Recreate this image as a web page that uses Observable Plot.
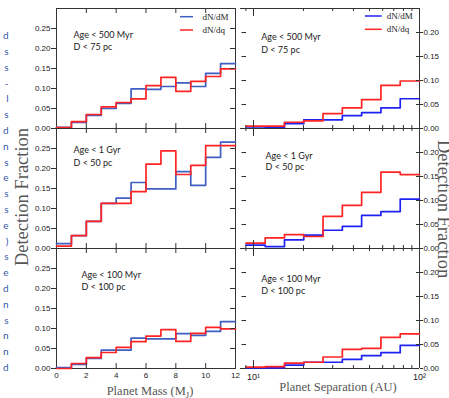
<!DOCTYPE html>
<html><head><meta charset="utf-8">
<script src="https://cdn.jsdelivr.net/npm/d3@7"></script>
<script src="https://cdn.jsdelivr.net/npm/@observablehq/plot@0.6"></script>
<style>
body{margin:0;background:#fff;}
#root{position:relative;width:449px;height:398px;overflow:hidden;background:#fff;}
#root svg{position:absolute;left:0;top:0;}
</style></head><body><div id="root"></div>
<script>
// ---- data ----
const massEdges = [0,1,2,3,4,5,6,7,8,9,10,11,12];
const sepEdges = [9.00, 11.76, 15.37, 20.08, 26.24, 34.29, 44.81, 58.56, 76.54, 100];
const panelAges = ["Age < 500 Myr", "Age < 1 Gyr", "Age < 100 Myr"];
const panelDists = ["D < 75 pc", "D < 50 pc", "D < 100 pc"];
const seriesNames = ["dN/dM", "dN/dq"];

const massDM_500 = [0.003,0.015,0.033,0.050,0.063,0.099,0.098,0.105,0.114,0.105,0.138,0.162];
const massDq_500 = [0.002,0.017,0.035,0.054,0.065,0.074,0.107,0.128,0.093,0.118,0.130,0.149];
const massDM_1G  = [0.012,0.032,0.068,0.113,0.126,0.165,0.149,0.149,0.192,0.158,0.228,0.266];
const massDq_1G  = [0.006,0.032,0.068,0.113,0.113,0.142,0.211,0.244,0.185,0.208,0.257,0.257];
const massDM_100 = [0.002,0.010,0.025,0.046,0.046,0.076,0.074,0.074,0.087,0.083,0.093,0.117];
const massDq_100 = [0.000,0.0125,0.027,0.040,0.053,0.067,0.081,0.097,0.068,0.088,0.103,0.099];

const sepDM_500 = [0.001,0.002,0.010,0.018,0.018,0.027,0.033,0.043,0.062];
const sepDq_500 = [0.005,0.005,0.013,0.016,0.031,0.043,0.060,0.090,0.099];
const sepDM_1G  = [0.007,0.004,0.018,0.028,0.038,0.046,0.069,0.077,0.103];
const sepDq_1G  = [0.011,0.022,0.029,0.025,0.067,0.090,0.117,0.159,0.154];
const sepDM_100 = [0.0015,0.0015,0.007,0.013,0.013,0.019,0.027,0.033,0.048];
const sepDq_100 = [0.003,0.004,0.011,0.013,0.024,0.040,0.042,0.065,0.072];

const massYTicks = [0,0.05,0.10,0.15,0.20,0.25];
const sepYTicks = [0,0.05,0.10,0.15,0.20];
const massXTicks = [0,2,4,6,8,10,12];
const sepMajor = [10,100];
const sepMinor = [9,20,30,40,50,60,70,80,90];
const sepTickLabels = ["10\u00B9","10\u00B2"];
const edgeFragments = ["d","s","s","-","l","s","d","n","s","e","s","s","e",")","s","e","d","n","s","n","n","d"];

// ---- layout ----
const W = 449, H = 398;
const rows = [[8,128],[128,248],[248,368]];
const L = [56,235], R = [240,419];
const blueL = "#3f5fc2", blueR = "#1f23f2", red = "#ff2424", ink = "#333";
const annL = [[17,23,35.5],[17,18,31],[25,22.7,35.3]];
const annR = [[20.7,25,37.7],[25,23.7,35.3],[20.7,27,39.3]];

function steps(edges, vals){
  const pts = vals.map((v,i)=>({x:edges[i], y:v}));
  pts.push({x:edges[edges.length-1], y:vals[vals.length-1]});
  return pts;
}
const root = document.getElementById("root");
const baseStyle = {background:"transparent", overflow:"visible", fontFamily:"Liberation Sans", fontSize:"8px", color:"#222"};

const massDM = [massDM_500, massDM_1G, massDM_100];
const massDq = [massDq_500, massDq_1G, massDq_100];
const sepDM = [sepDM_500, sepDM_1G, sepDM_100];
const sepDq = [sepDq_500, sepDq_1G, sepDq_100];

for (let i=0;i<3;i++){
  const fw = L[1]-L[0], fh = rows[i][1]-rows[i][0];
  const p = Plot.plot({
    width:W, height:H,
    marginLeft:L[0], marginRight:W-L[1], marginTop:rows[i][0], marginBottom:H-rows[i][1],
    style: baseStyle,
    x:{type:"linear", domain:[0,12], axis:null},
    y:{domain:[0,0.30], axis:null},
    marks:[
      Plot.frame({stroke:ink, strokeWidth:1}),
      Plot.line(steps(massEdges, massDM[i]), {x:"x", y:"y", curve:"step-after", stroke:blueL, strokeWidth:1.7}),
      Plot.line(steps(massEdges, massDq[i]), {x:"x", y:"y", curve:"step-after", stroke:red, strokeWidth:1.7}),
      Plot.axisY(massYTicks, {anchor:"left", label:null, tickSize:5, tickPadding:1, tickFormat:d3.format(".2f"), stroke:ink, fill:"#222"}),
      Plot.tickY(massYTicks, {y:d=>d, insetLeft:fw-5, stroke:ink}),
      Plot.tickX(massXTicks.slice(1,6), {x:d=>d, insetTop:fh-5, stroke:ink}),
      Plot.tickX(massXTicks.slice(1,6), {x:d=>d, insetBottom:fh-5, stroke:ink}),
      i===2 ? Plot.axisX(massXTicks, {anchor:"bottom", label:null, tickSize:0, tickPadding:4, fill:"#222"}) : null,
      Plot.text([panelAges[i]], {frameAnchor:"top-left", dx:annL[i][0], dy:annL[i][1], textAnchor:"start", fontFamily:"Lato", fontSize:9, fill:"#222"}),
      Plot.text([panelDists[i]], {frameAnchor:"top-left", dx:annL[i][0], dy:annL[i][2], textAnchor:"start", fontFamily:"Lato", fontSize:9, fill:"#222"})
    ]
  });
  root.appendChild(p);
}

for (let i=0;i<3;i++){
  const fw = R[1]-R[0], fh = rows[i][1]-rows[i][0];
  const p = Plot.plot({
    width:W, height:H,
    marginLeft:R[0], marginRight:W-R[1], marginTop:rows[i][0], marginBottom:H-rows[i][1],
    style: baseStyle,
    x:{type:"log", domain:[8.35,100], axis:null},
    y:{domain:[0,0.25], axis:null},
    marks:[
      Plot.ruleY([0,0.25], {stroke:ink}),
      Plot.ruleX([100], {stroke:ink}),
      Plot.line(steps(sepEdges, sepDM[i]), {x:"x", y:"y", curve:"step-after", stroke:blueR, strokeWidth:1.7}),
      Plot.line(steps(sepEdges, sepDq[i]), {x:"x", y:"y", curve:"step-after", stroke:red, strokeWidth:1.7}),
      Plot.axisY(sepYTicks, {anchor:"right", label:null, tickSize:3, tickPadding:1, tickFormat:d3.format(".2f"), stroke:ink, fill:"#222"}),
      Plot.tickY(sepYTicks, {y:d=>d, insetLeft:fw-3, stroke:ink}),
      Plot.tickY(sepYTicks.concat([0.25]), {y:d=>d, insetLeft:1.5, insetRight:fw-6, stroke:ink}),
      Plot.tickX(sepMajor.slice(0,1), {x:d=>d, insetTop:fh-8, stroke:ink}),
      Plot.tickX(sepMajor.slice(0,1), {x:d=>d, insetBottom:fh-8, stroke:ink}),
      Plot.tickX(sepMinor, {x:d=>d, insetTop:fh-3, stroke:ink}),
      Plot.tickX(sepMinor, {x:d=>d, insetBottom:fh-3, stroke:ink}),
      i===2 ? Plot.axisX(sepMajor, {anchor:"bottom", label:null, tickSize:0, tickPadding:5, fontSize:9, tickFormat:(d)=>sepTickLabels[sepMajor.indexOf(d)], fill:"#222"}) : null,
      Plot.text([panelAges[i]], {frameAnchor:"top-left", dx:annR[i][0], dy:annR[i][1], textAnchor:"start", fontFamily:"Lato", fontSize:9, fill:"#222"}),
      Plot.text([panelDists[i]], {frameAnchor:"top-left", dx:annR[i][0], dy:annR[i][2], textAnchor:"start", fontFamily:"Lato", fontSize:9, fill:"#222"})
    ]
  });
  root.appendChild(p);
}

// ---- overlay: titles, legends, page fragments ----
const svg = d3.select(root).append("svg").attr("width",W).attr("height",H).style("overflow","hidden");
svg.append("g").selectAll("text").data(edgeFragments).join("text")
  .attr("x",8.5).attr("y",(d,i)=>35.7+i*15.8).attr("dy","0.35em")
  .attr("text-anchor","end").attr("font-family","Lato").attr("font-size",10).attr("fill","#3556a8").text(d=>d);
svg.append("text").attr("transform","translate(27.5,197) rotate(-90)").attr("text-anchor","middle")
  .attr("font-family","Liberation Serif").attr("font-size",18.5).attr("fill","#555").text("Detection Fraction");
svg.append("text").attr("transform","translate(438,140) rotate(90)").attr("text-anchor","start")
  .attr("font-family","Liberation Serif").attr("font-size",18.5).attr("fill","#555").text("Detection Fraction");
const mt = svg.append("text").attr("x",150).attr("y",395).attr("text-anchor","middle")
  .attr("font-family","Liberation Serif").attr("font-size",12.5).attr("fill","#555");
mt.append("tspan").text("Planet Mass (M");
mt.append("tspan").attr("font-size",8.5).attr("dy",2.5).text("J");
mt.append("tspan").attr("dy",-2.5).text(")");
svg.append("text").attr("x",338).attr("y",391).attr("text-anchor","middle")
  .attr("font-family","Liberation Serif").attr("font-size",12.5).attr("fill","#555").text("Planet Separation (AU)");
const legends = [{x1:180,x2:193,tx:202.5,y:[16.7,30],blue:blueL},{x1:365,x2:381.7,tx:386.7,y:[16,29.3],blue:blueR}];
for (const lg of legends){
  [lg.blue, red].forEach((c,k)=>{
    svg.append("line").attr("x1",lg.x1).attr("x2",lg.x2).attr("y1",lg.y[k]).attr("y2",lg.y[k]).attr("stroke",c).attr("stroke-width",1.5);
    svg.append("text").attr("x",lg.tx).attr("y",lg.y[k]).attr("dy","0.35em").attr("font-family","Liberation Serif")
      .attr("font-size",9).attr("fill","#222").text(seriesNames[k]);
  });
}
</script></body></html>
